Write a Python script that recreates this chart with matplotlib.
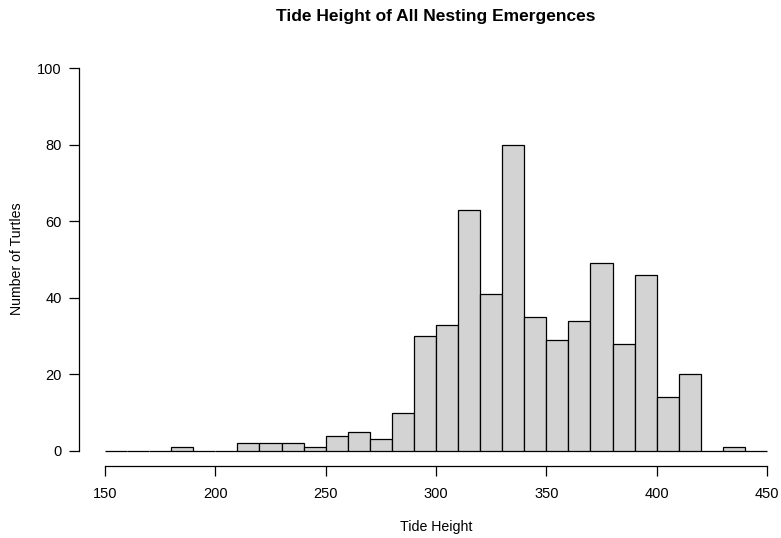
import matplotlib
matplotlib.use("Agg")
import matplotlib.pyplot as plt
import numpy as np

plt.rcParams['font.family'] = ['Liberation Sans', 'DejaVu Sans']

bin_edges = list(range(150, 460, 10))
counts = [0, 0, 0, 1, 0, 0, 2, 2, 2, 1, 4, 5, 3, 10, 30, 33, 63, 41, 80, 35,
          29, 34, 49, 28, 46, 14, 20, 0, 1, 0]
x_ticks = [150, 200, 250, 300, 350, 400, 450]
y_ticks = [0, 20, 40, 60, 80, 100]

fig = plt.figure(figsize=(7.81, 5.38), dpi=100)
ax = fig.add_axes([78.5/781, (538-466.3)/538, (793.5-78.5)/781, (466.3-52.7)/538])
ax.set_xlim(138, 462)
ax.set_ylim(-4, 104)

lefts = np.array(bin_edges[:-1])
widths = np.diff(bin_edges)
ax.bar(lefts, counts, width=widths, align='edge', color='#D3D3D3',
       edgecolor='black', linewidth=0.9)

for s in ['top', 'right']:
    ax.spines[s].set_visible(False)
ax.spines['left'].set_bounds(0, 100)
ax.spines['bottom'].set_bounds(150, 450)
ax.spines['left'].set_linewidth(0.9)
ax.spines['bottom'].set_linewidth(0.9)
ax.set_xticks(x_ticks)
ax.set_yticks(y_ticks)
ax.tick_params(axis='both', direction='out', length=7, width=0.9, labelsize=10.5)
ax.tick_params(axis='x', pad=8)
ax.tick_params(axis='y', pad=5)

fig.text(436/781, 1-17/538, 'Tide Height of All Nesting Emergences', ha='center', va='center',
         fontsize=12.5, fontweight='bold')
fig.text(436/781, 1-527/538, 'Tide Height', ha='center', va='center', fontsize=10.2)
fig.text(17/781, 1-259/538, 'Number of Turtles', ha='center', va='center', fontsize=10.2, rotation=90)

fig.savefig('out.png', dpi=100)
